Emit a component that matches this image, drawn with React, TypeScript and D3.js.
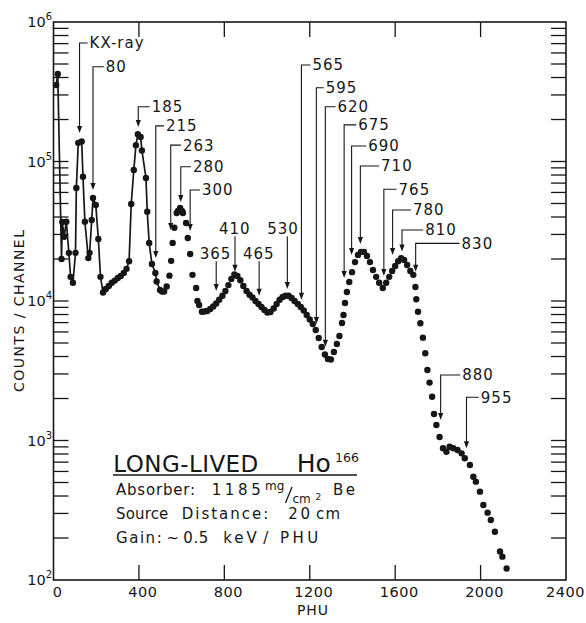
import React from 'react';
import * as d3 from 'd3';

// ---- spectrum data (PHU channel, counts / channel) ----
const phu = [
  12.5, 20, 37.6, 41, 50, 60, 72, 80, 91, 103, 107, 116, 132, 138, 147, 163, 169, 179, 185, 198, 210, 220, 232,
  245, 259, 273, 287, 301, 315, 329, 342, 354, 364, 376, 386, 395, 408, 414, 433, 439, 448, 461, 477, 483, 499, 508, 518, 530,
  543, 551, 558, 566, 577, 583, 593, 602, 606, 621, 629, 640, 651, 668, 674, 682, 695,
  706, 720, 734, 748, 762, 776, 791, 805, 819, 833, 847, 861, 875, 889, 904, 918, 932, 946, 960, 974, 988, 1002,
  1016, 1031, 1045, 1059, 1073, 1087, 1101, 1115, 1129, 1144, 1158, 1172, 1186, 1200, 1214, 1228, 1242, 1256, 1271, 1285, 1299,
  1313, 1327, 1339, 1351, 1358, 1365, 1374, 1385, 1398, 1412, 1426, 1440, 1454, 1468, 1482, 1496, 1511, 1525, 1542,
  1558, 1572, 1586, 1600, 1614, 1628, 1642, 1656, 1671, 1685, 1695, 1699, 1707, 1718, 1730, 1741, 1751, 1761, 1773, 1782, 1793,
  1808, 1824, 1840, 1855, 1872, 1892, 1911, 1926, 1950, 1966, 1978, 1997, 2013, 2033, 2048, 2067, 2091, 2102, 2122,
];
const counts = [
  353000, 424000, 20000, 36800, 28900, 37000, 22100, 14900, 13500, 22100, 64600, 136000, 139000, 77800, 37000, 20300, 22100, 38100, 54700, 48800, 27800, 14900, 11500,
  12200, 12800, 13500, 14000, 14600, 15100, 15900, 17000, 19300, 49600, 86900, 131000, 157000, 150000, 120000, 76200, 43700, 26100, 18400, 15900, 13800, 12000, 11700, 11700, 12700,
  15200, 19400, 26100, 33500, 42700, 44200, 46400, 44200, 42700, 36200, 28300, 21700, 15400, 12400, 10000, 9360, 8380,
  8410, 8480, 8760, 9140, 9600, 10200, 10900, 11800, 13000, 14400, 15500, 15100, 14100, 12800, 11800, 11100, 10600, 10000, 9520, 9060, 8620, 8270,
  8340, 8840, 9520, 10200, 10700, 10900, 10900, 10500, 10000, 9520, 9060, 8550, 7940, 7370, 6840, 6190, 5430, 4680, 4140, 3840, 3810,
  4310, 4920, 5610, 6950, 7940, 9670, 11600, 13700, 16100, 19000, 21400, 22500, 22500, 21000, 19000, 16700, 14900, 13500, 12400,
  13500, 14900, 16400, 17800, 19300, 20300, 19700, 18100, 16400, 15400, 12600, 10300, 8380, 6920, 5460, 4220, 3200, 2600, 2060, 1550, 1290,
  1060, 879, 831, 903, 879, 855, 809, 746, 667, 550, 507, 430, 345, 304, 269, 222, 160, 147, 121,
];
// points up to this channel are joined by a line
const LINE_END_PHU = 530;

// ---- axes ----
const xTicks = [0, 400, 800, 1200, 1600, 2000, 2400];
const yDecades = [2, 3, 4, 5, 6];

// ---- peak annotations (energies in keV) ----
const annLabels = ['KX-ray', '80', '185', '215', '263', '280', '300', '365', '410', '465', '530', '565', '595', '620', '675', '690', '710', '765', '780', '810', '830', '880', '955'];
const annKinds = ['stub', 'stub', 'stub', 'stub', 'stub', 'stub', 'stub', 'top', 'top', 'top', 'top', 'stub', 'stub', 'stub', 'stub', 'stub', 'stub', 'stub', 'stub', 'stub', 'stub', 'stub', 'stub'];
const annPhu = [122, 185, 397, 479, 549, 596, 640, 762, 850, 963, 1095, 1161, 1231, 1273, 1361, 1396, 1437, 1547, 1588, 1632, 1696, 1813, 1934];
const annTip = [160000, 62500, 177000, 20300, 32300, 51200, 31700, 11800, 16200, 10900, 12200, 10200, 6840, 4700, 14600, 21400, 25600, 15100, 21400, 22600, 16200, 1400, 879];
const annLevel = [707000, 478000, 247000, 180000, 131000, 91800, 62500, 22000, 33200, 22000, 33200, 492000, 338000, 247000, 183000, 129000, 92900, 63200, 44900, 32300, 25900, 2950, 2040];
const annLabelPhu = [169, 245, 460, 527, 606, 653, 695, 759, 849, 961, 1075, 1213, 1275, 1330, 1427, 1474, 1534, 1616, 1683, 1741, 1911, 1914, 2001];

const INK = '#161616';
const FONT = '"DejaVu Sans", sans-serif';

export default function App() {
  const W = 586, H = 623;
  const x = d3.scaleLinear().domain([0, 2400]).range([53.5, 566]);
  const y = d3.scaleLog().domain([100, 1e6]).range([580, 22]);
  const [xl, xr] = x.range();
  const [yb, yt] = y.range();

  const pts: [number, number][] = phu.map((p, i) => [p, counts[i]]);
  const linePts = pts.filter((d) => d[0] <= LINE_END_PHU);
  const line = d3.line<[number, number]>().x((d) => x(d[0])).y((d) => y(d[1]));

  const yMinor = y.ticks().filter((v) => v > 100 && v < 1e6);
  const TL = 15;

  return (
    <svg width={W} height={H} style={{ position: 'absolute', left: 0, top: 0, background: '#fff' }} fontFamily={FONT}>
      <rect x={0} y={0} width={W} height={H} fill="#fff" />
      {/* frame */}
      <rect x={xl} y={yt} width={xr - xl} height={yb - yt} fill="none" stroke={INK} strokeWidth={1.6} />
      {/* y ticks both sides */}
      {yMinor.map((v, i) => (
        <g key={'yt' + i} stroke={INK} strokeWidth={1.3}>
          <line x1={xl} x2={xl + TL} y1={y(v)} y2={y(v)} />
          <line x1={xr - TL} x2={xr} y1={y(v)} y2={y(v)} />
        </g>
      ))}
      {/* x ticks top & bottom */}
      {xTicks.filter((t) => t > 0 && t < 2400).map((t) => (
        <g key={'xt' + t} stroke={INK} strokeWidth={1.3}>
          <line x1={x(t)} x2={x(t)} y1={yb} y2={yb - TL} />
          <line x1={x(t)} x2={x(t)} y1={yt} y2={yt + TL} />
        </g>
      ))}
      {/* y tick labels */}
      {yDecades.map((d) => (
        <text key={'yl' + d} x={52} y={y(Math.pow(10, d)) + 5} textAnchor="end" fontSize={14.5} fill={INK}>
          10<tspan fontSize={10} dy={-7}>{d}</tspan>
        </text>
      ))}
      {/* x tick labels */}
      {xTicks.map((t, i) => {
        const last = i === xTicks.length - 1;
        return (
          <text
            key={'xl' + t}
            x={last ? 585 : x(t) + 4}
            y={597}
            textAnchor={last ? 'end' : 'middle'}
            fontSize={14.5}
            letterSpacing={0.5}
            fill={INK}
          >
            {t}
          </text>
        );
      })}
      <text x={313} y={615} textAnchor="middle" fontSize={14} letterSpacing={1} fill={INK}>PHU</text>
      <text
        transform="translate(24,311) rotate(-90)"
        x={0}
        y={0}
        textAnchor="middle"
        fontSize={14}
        textLength={162}
        lengthAdjust="spacing"
        fill={INK}
      >
        COUNTS / CHANNEL
      </text>

      {/* data */}
      <path d={line(linePts) || ''} fill="none" stroke={INK} strokeWidth={1.7} />
      {pts.map((d, i) => (
        <circle key={'p' + i} cx={x(d[0])} cy={y(d[1])} r={3.2} fill={INK} />
      ))}

      {/* annotations */}
      {annLabels.map((lab, i) => {
        const ax = x(annPhu[i]);
        const ty = y(annTip[i]);
        const ly = y(annLevel[i]);
        const lx = x(annLabelPhu[i]);
        const head = `M${ax},${ty} L${ax - 2.6},${ty - 7} L${ax + 2.6},${ty - 7} Z`;
        if (annKinds[i] === 'top') {
          return (
            <g key={'a' + i}>
              <text x={lx} y={ly} dy="0.36em" textAnchor="middle" fontSize={15} letterSpacing={1} fill={INK}>{lab}</text>
              <line x1={ax} x2={ax} y1={ly + 8} y2={ty - 5} stroke={INK} strokeWidth={1.1} />
              <path d={head} fill={INK} />
            </g>
          );
        }
        return (
          <g key={'a' + i}>
            <path d={`M${lx - 2},${ly} H${ax} V${ty - 5}`} fill="none" stroke={INK} strokeWidth={1.1} />
            <path d={head} fill={INK} />
            <text x={lx} y={ly} dy="0.36em" fontSize={15} letterSpacing={1} fill={INK}>{lab}</text>
          </g>
        );
      })}

      {/* legend block */}
      <g fill={INK}>
        <text x={113.3} y={471.7} fontSize={23} textLength={145} lengthAdjust="spacing">LONG-LIVED</text>
        <text x={296.7} y={471.7} fontSize={25}>Ho</text>
        <text x={335} y={461.7} fontSize={12.5}>166</text>
        <line x1={113} x2={357} y1={475} y2={475} stroke={INK} strokeWidth={1.5} />

        <text x={116} y={495} fontSize={15} textLength={79} lengthAdjust="spacing">Absorber:</text>
        <text x={211.7} y={495} fontSize={15} textLength={49} lengthAdjust="spacing">1185</text>
        <text x={265} y={489.5} fontSize={12}>mg</text>
        <line x1={292} x2={285.5} y1={487} y2={503} stroke={INK} strokeWidth={1.3} />
        <text x={292.5} y={502.5} fontSize={12}>cm</text>
        <text x={315.5} y={500} fontSize={9}>2</text>
        <text x={333} y={495} fontSize={15} textLength={22} lengthAdjust="spacing">Be</text>

        <text x={116} y={519} fontSize={15} textLength={52.3} lengthAdjust="spacing">Source</text>
        <text x={181.7} y={519} fontSize={15} textLength={86.6} lengthAdjust="spacing">Distance:</text>
        <text x={288.3} y={519} fontSize={15} textLength={21.7} lengthAdjust="spacing">20</text>
        <text x={316} y={519} fontSize={15} textLength={24} lengthAdjust="spacing">cm</text>

        <text x={116} y={543.3} fontSize={15} textLength={45.7} lengthAdjust="spacing">Gain:</text>
        <text x={166.5} y={543.3} fontSize={15}>~</text>
        <text x={183.3} y={543.3} fontSize={15} textLength={25} lengthAdjust="spacing">0.5</text>
        <text x={223.3} y={543.3} fontSize={15} textLength={33.4} lengthAdjust="spacing">keV</text>
        <text x={263.3} y={543.3} fontSize={15}>/</text>
        <text x={280} y={543.3} fontSize={15} textLength={38.3} lengthAdjust="spacing">PHU</text>
      </g>
    </svg>
  );
}
